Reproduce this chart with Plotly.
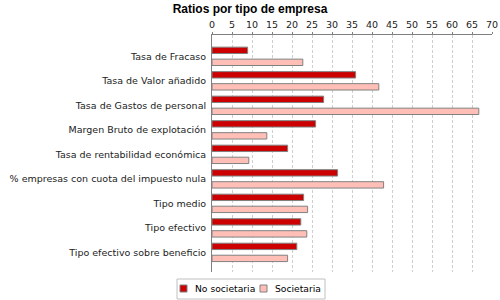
import plotly.graph_objects as go

categories = [
    "Tasa de Fracaso",
    "Tasa de Valor añadido",
    "Tasa de Gastos de personal",
    "Margen Bruto de explotación",
    "Tasa de rentabilidad económica",
    "% empresas con cuota del impuesto nula",
    "Tipo medio",
    "Tipo efectivo",
    "Tipo efectivo sobre beneficio",
]
no_societaria = [8.9, 35.9, 27.9, 25.9, 18.9, 31.4, 22.9, 22.2, 21.2]
societaria = [22.7, 41.7, 66.7, 13.7, 9.2, 42.9, 23.9, 23.7, 18.9]
x_ticks = list(range(0, 71, 5))
series_names = ["No societaria", "Societaria"]
series_colors = ["#CC0000", "#FFBFB7"]

FONT = "DejaVu Sans"
BORDER = "#808080"

W, H = 500, 300
L, R, T, B = 212, 8, 35, 28
PW, PH = W - L - R, H - T - B


def px_x(p):
    return (p - L) / PW


def px_y(p):
    return (H - B - p) / PH


fig = go.Figure()
for name, vals, col, off in zip(series_names, [no_societaria, societaria],
                                series_colors, [-0.375, 0.115]):
    fig.add_trace(go.Bar(
        y=categories, x=vals, orientation="h", name=name,
        marker=dict(color=col, line=dict(color=BORDER, width=1)),
        width=0.26, offset=off, showlegend=False,
    ))

# manual compact legend
shapes = [dict(type="rect", xref="paper", yref="paper",
               x0=px_x(177), x1=px_x(325), y0=px_y(279), y1=px_y(299),
               line=dict(color="#C0C0C0", width=1), fillcolor="white")]
annotations = []
for name, col, sx, tx in zip(series_names, series_colors, [180, 260], [192.5, 272.5]):
    shapes.append(dict(type="rect", xref="paper", yref="paper",
                       x0=px_x(sx), x1=px_x(sx + 7), y0=px_y(285), y1=px_y(292),
                       line=dict(color=BORDER, width=1), fillcolor=col))
    annotations.append(dict(text=name, xref="paper", yref="paper",
                            x=px_x(tx), y=px_y(288.5), xanchor="left", yanchor="middle",
                            showarrow=False,
                            font=dict(family=FONT, size=9.2, color="black")))

fig.update_layout(
    width=W, height=H,
    margin=dict(l=L, r=R, t=T, b=B),
    paper_bgcolor="white", plot_bgcolor="white",
    barmode="overlay",
    title=dict(text="<b>Ratios por tipo de empresa</b>", x=0.5, xref="container",
               xanchor="center", y=(H - 9) / H, yref="container", yanchor="middle",
               font=dict(family="Liberation Sans", size=12, color="black")),
    xaxis=dict(side="top", range=[0, 70], tickvals=x_ticks, automargin=False,
               showline=True, linecolor=BORDER, linewidth=1,
               ticks="outside", ticklen=2, tickcolor=BORDER,
               showgrid=True, gridcolor="#CFCFCF", griddash="3px,2px", gridwidth=1,
               zeroline=False,
               tickfont=dict(family=FONT, size=9.5, color="#222")),
    yaxis=dict(type="category", range=[8.8, -0.87], automargin=False,
               showline=True, linecolor=BORDER, linewidth=1,
               ticks="", showgrid=False, zeroline=False, ticklabelstandoff=3,
               tickfont=dict(family=FONT, size=9.5, color="#222")),
    shapes=shapes,
    annotations=annotations,
    showlegend=False,
)

fig.write_html("out.html", config={"displayModeBar": False},
               post_script="document.body.style.margin='0';document.body.style.padding='0';")
